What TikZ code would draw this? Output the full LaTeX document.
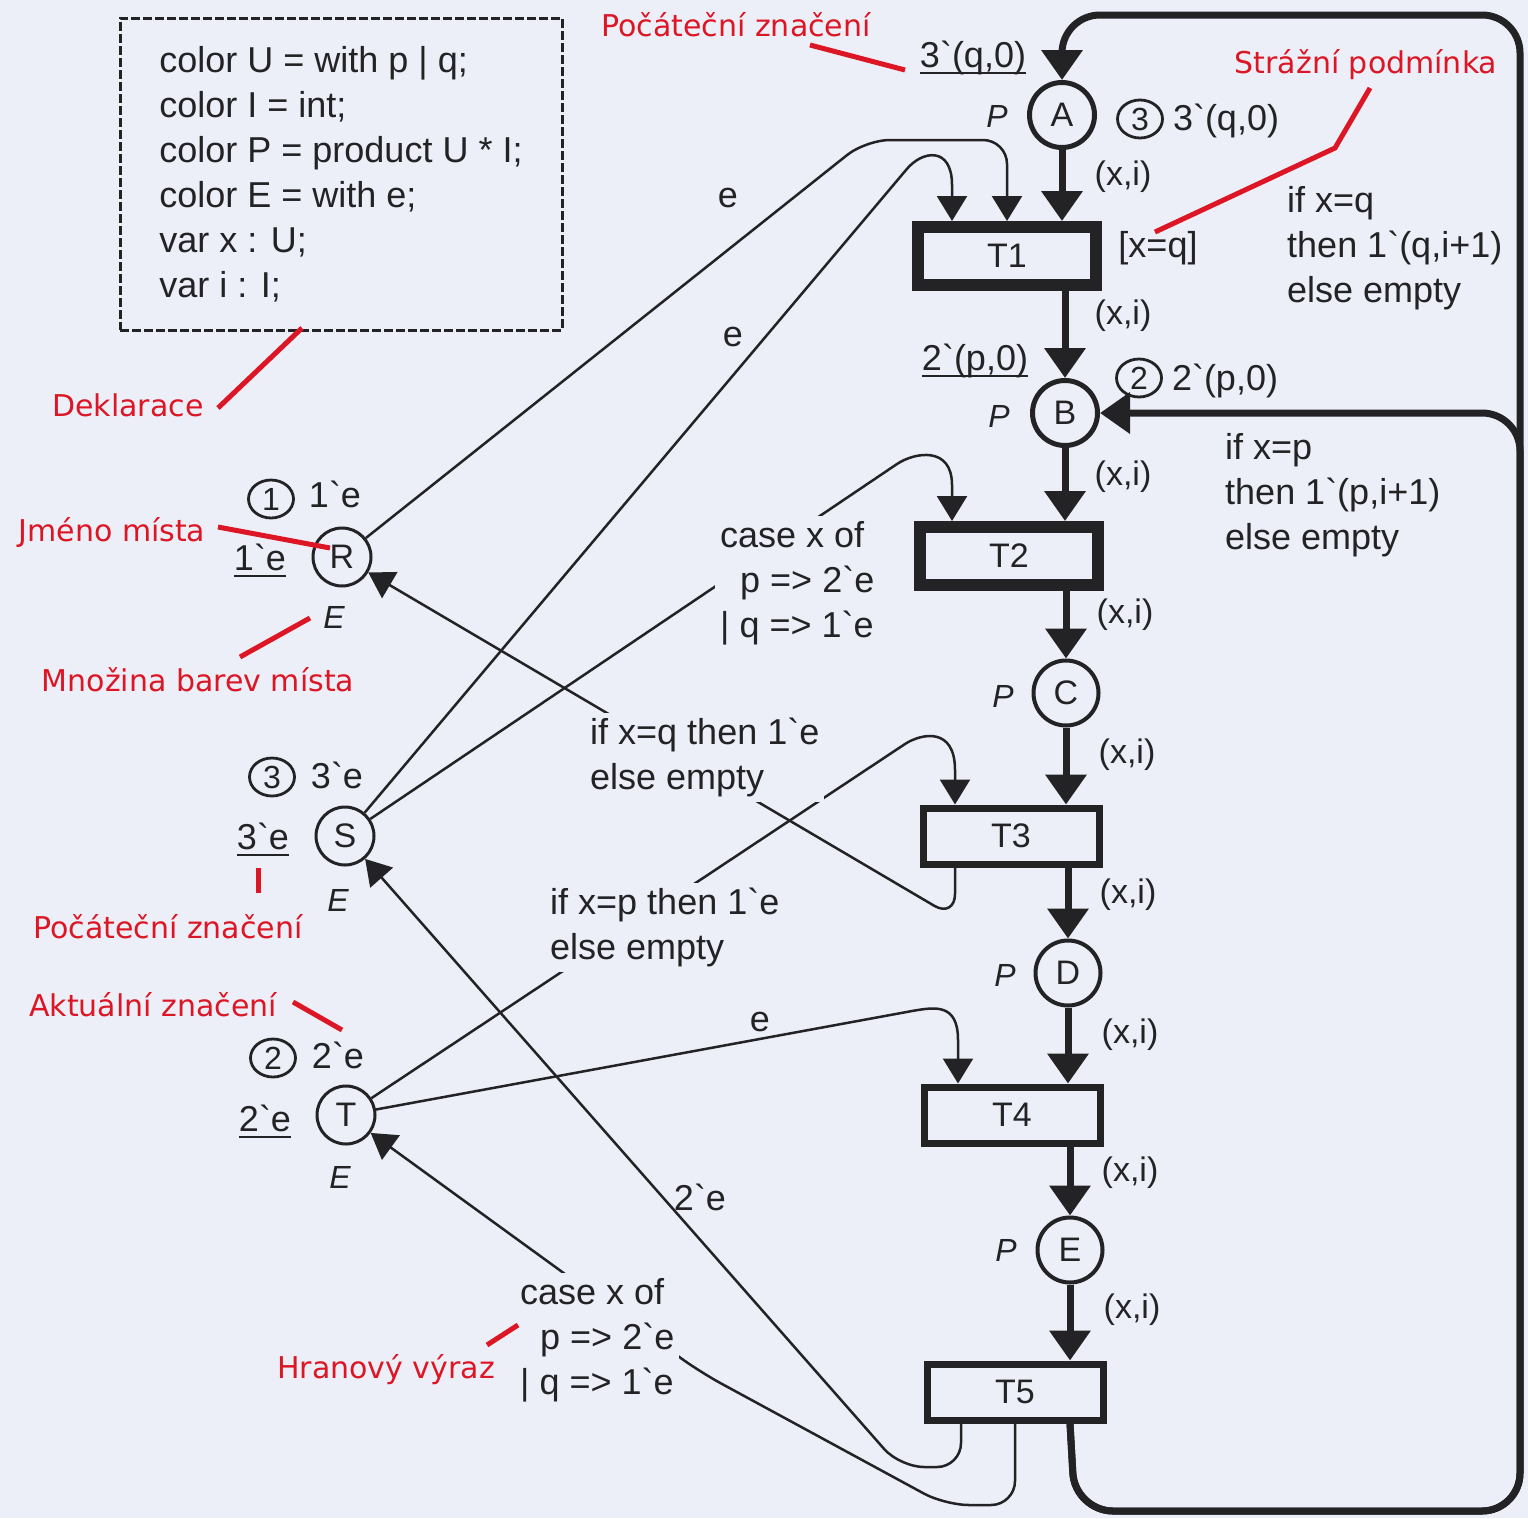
\documentclass[tikz,border=0pt]{standalone}
\usepackage{fontspec}
\setmainfont{Liberation Sans}
\newfontfamily\notefont{DejaVu Sans}
\usetikzlibrary{arrows.meta,shapes.geometric}

\definecolor{paper}{RGB}{236,239,248}
\definecolor{ink}{RGB}{35,35,38}
\definecolor{notered}{RGB}{220,22,36}

\newcommand{\bq}{\textasciigrave}
\newcommand{\initmk}[1]{\setbox0=\hbox{#1}\rlap{\rule[-7pt]{\wd0}{2.5pt}}\box0}

\begin{document}
\begin{tikzpicture}[x=1pt,y=-1pt,
    txt/.style={text=ink,inner sep=0pt,align=left,font=\fontsize{36}{45}\selectfont},
    gap/.style={txt,fill=paper,inner sep=5pt},
    small/.style={txt,font=\fontsize{34}{40}\selectfont},
    colset/.style={txt,font=\itshape\fontsize{32}{32}\selectfont},
    pplace/.style={circle,draw=ink,line width=5pt,minimum size=65pt,inner sep=0pt,
      text=ink,font=\fontsize{34}{34}\selectfont},
    eplace/.style={pplace,line width=3pt,minimum size=58pt},
    heavytrans/.style={rectangle,draw=ink,line width=12pt,minimum width=178pt,
      minimum height=58pt,inner sep=0pt,text=ink,font=\fontsize{34}{34}\selectfont},
    lighttrans/.style={heavytrans,line width=7pt,minimum width=176pt,minimum height=56pt},
    thickarc/.style={draw=ink,line width=7pt,rounded corners=38pt,
      -{Triangle[width=40pt,length=30pt]}},
    thinarc/.style={draw=ink,line width=2.5pt,rounded corners=24pt,
      -{Triangle[width=30pt,length=25pt]}},
    tokencnt/.style={ellipse,draw=ink,line width=2.8pt,minimum width=45pt,
      minimum height=38pt,inner sep=0pt,text=ink,font=\fontsize{32}{32}\selectfont},
    note/.style={text=notered,inner sep=0pt,font=\notefont\fontsize{30}{30}\selectfont},
    pointer/.style={draw=notered,line width=5pt}
  ]

  \useasboundingbox (0,0) rectangle (1528,1518);
  \fill[paper] (0,0) rectangle (1528,1518);

  % ====================================================
  % DECLARATIONS
  % ====================================================
  \node[txt,draw=ink,line width=3pt,dash pattern=on 9pt off 3pt,
        minimum width=442pt,minimum height=312pt]
    (decl) at (341,174)
    {color U = with p | q;\\color I = int;\\color P = product U * I;\\
     color E = with e;\\var x : U;\\var i : I;};

  % ====================================================
  % PLACES AND TRANSITIONS
  % ====================================================

  % main chain
  \node[pplace] (A) at (1062,115) {A};
  \node[pplace] (B) at (1065,413) {B};
  \node[pplace,line width=4pt] (C) at (1066,693) {C};
  \node[pplace,line width=4pt] (D) at (1068,973) {D};
  \node[pplace,line width=4pt] (E) at (1070,1250) {E};

  \node[heavytrans] (T1) at (1007,256) {T1};
  \node[heavytrans] (T2) at (1009,556) {T2};
  \node[lighttrans] (T3) at (1011,836) {T3};
  \node[lighttrans] (T4) at (1012,1115) {T4};
  \node[lighttrans] (T5) at (1015,1392) {T5};

  % resource places
  \node[eplace] (R) at (342,557) {R};
  \node[eplace] (S) at (345,836) {S};
  \node[eplace] (T) at (346,1115) {T};

  % ====================================================
  % ARCS
  % ====================================================

  % thick chain A -> T1 -> B -> ... -> T5
  \draw[thickarc] (A) -- (A |- T1.north);
  \draw[thickarc] (T1.south -| B) -- (B);
  \draw[thickarc] (B) -- (B |- T2.north);
  \draw[thickarc] (T2.south -| C) -- (C);
  \draw[thickarc] (C) -- (C |- T3.north);
  \draw[thickarc] (T3.south -| D) -- (D);
  \draw[thickarc] (D) -- (D |- T4.north);
  \draw[thickarc] (T4.south -| E) -- (E);
  \draw[thickarc] (E) -- (E |- T5.north);

  % back from T5 to A and to B
  \draw[thickarc] (T5.south -| E) -- (1075,1511) -- (1520,1511) -- (1520,15)
    -- (1062,15) -- (A);
  \draw[thickarc] (T5.south -| E) -- (1075,1511) -- (1520,1511) -- (1520,413) -- (B);

  % resources into the transitions
  \draw[thinarc] (R) -- (866,140) -- (1007,140) -- (T1.north);
  \draw[thinarc,sharp corners] (S) -- (906,170) .. controls (922,150) and (952,146) ..
    (952,185) -- ([xshift=-55pt]T1.north);
  \draw[thinarc,sharp corners] (S) -- (897,464) .. controls (915,452) and (952,446) ..
    (952,485) -- ([xshift=-57pt]T2.north);
  \draw[thinarc,sharp corners] (T) -- (905,744) .. controls (922,733) and (955,727) ..
    (955,770) -- ([xshift=-56pt]T3.north);
  \draw[thinarc,sharp corners] (T) -- (912,1011) .. controls (935,1007) and (958,1003) ..
    (958,1040) -- ([xshift=-54pt]T4.north);

  % resources given back
  \draw[thinarc] ([xshift=-56pt]T3.south) -- (955,918) -- (R);
  \draw[thinarc] ([xshift=-54pt]T5.south) -- (961,1467) -- (900,1467) -- (S);
  \draw[thinarc] (T5.south) -- (1015,1505) -- (945,1505) -- (700,1372) -- (T);

  % ====================================================
  % INSCRIPTIONS
  % ====================================================

  % colour sets
  \node[colset] (csA) at (997,116) {P};
  \node[colset] (csB) at (999,416) {P};
  \node[colset] (csC) at (1003,696) {P};
  \node[colset] (csD) at (1005,975) {P};
  \node[colset] (csE) at (1006,1250) {P};
  \node[colset] (csR) at (334,617) {E};
  \node[colset] (csS) at (338,900) {E};
  \node[colset] (csT) at (340,1177) {E};

  % initial markings
  \node[txt,anchor=base] (imA) at (973,67) {\initmk{3\bq(q,0)}};
  \node[txt,anchor=base] (imB) at (975,370) {\initmk{2\bq(p,0)}};
  \node[txt,anchor=base] (imR) at (260,570) {\initmk{1\bq e}};
  \node[txt,anchor=base] (imS) at (263,849) {\initmk{3\bq e}};
  \node[txt,anchor=base] (imT) at (265,1131) {\initmk{2\bq e}};

  % current markings
  \node[tokencnt] (cntA) at (1140,119) {3};
  \node[txt,anchor=base] (curA) at (1226,130) {3\bq(q,0)};
  \node[tokencnt] (cntB) at (1139,378) {2};
  \node[txt,anchor=base] (curB) at (1225,390) {2\bq(p,0)};
  \node[tokencnt] (cntR) at (271,499) {1};
  \node[txt,anchor=base] (curR) at (335,507) {1\bq e};
  \node[tokencnt] (cntS) at (272,777) {3};
  \node[txt,anchor=base] (curS) at (337,788) {3\bq e};
  \node[tokencnt] (cntT) at (273,1058) {2};
  \node[txt,anchor=base] (curT) at (338,1068) {2\bq e};

  % arc expressions on the chain
  \node[small] (ax1) at (1123,177) {(x,i)};
  \node[small] (ax2) at (1123,316) {(x,i)};
  \node[small] (ax3) at (1123,477) {(x,i)};
  \node[small] (ax4) at (1125,615) {(x,i)};
  \node[small] (ax5) at (1127,755) {(x,i)};
  \node[small] (ax6) at (1128,895) {(x,i)};
  \node[small] (ax7) at (1130,1035) {(x,i)};
  \node[small] (ax8) at (1130,1173) {(x,i)};
  \node[small] (ax9) at (1132,1310) {(x,i)};

  \node[txt] (guard) at (1158,248) {[x=q]};
  \node[txt,anchor=west] (toA) at (1287,248) {if x=q\\then 1\bq(q,i+1)\\else empty};
  \node[txt,anchor=west] (toB) at (1225,495) {if x=p\\then 1\bq(p,i+1)\\else empty};

  % arc expressions on the resource arcs
  \node[txt] (eR) at (728,198) {e};
  \node[txt] (eS) at (733,337) {e};
  \node[txt] (eT) at (760,1022) {e};
  \node[txt] (twoS) at (700,1197) {2\bq e};
  \node[gap,anchor=west] (caseS) at (715,583)
    {case x of\\\hspace*{20pt}p => 2\bq e\\| q => 1\bq e};
  \node[gap,anchor=west] (backR) at (585,757) {if x=q then 1\bq e\\else empty};
  \node[gap,anchor=west] (takeT) at (545,927) {if x=p then 1\bq e\\else empty};
  \node[gap,anchor=west] (caseT) at (515,1340)
    {case x of\\\hspace*{20pt}p => 2\bq e\\| q => 1\bq e};

  % ====================================================
  % RED NOTES
  % ====================================================
  \node[note] (nInitTop) at (736,25) {Počáteční značení};
  \node[note] (nGuard) at (1366,65) {Strážní podmínka};
  \node[note] (nDecl) at (128,405) {Deklarace};
  \node[note] (nName) at (112,532) {Jméno místa};
  \node[note] (nColset) at (198,680) {Množina barev místa};
  \node[note] (nInit) at (168,927) {Počáteční značení};
  \node[note] (nCur) at (153,1005) {Aktuální značení};
  \node[note] (nExpr) at (386,1370) {Hranový výraz};

  \coordinate (pInitTopA) at (810,45);   \coordinate (pInitTopB) at (905,70);
  \coordinate (pGuardA) at (1370,88);    \coordinate (pGuardB) at (1155,232);
  \coordinate (pDeclA) at (218,408);     \coordinate (pDeclB) at (302,328);
  \coordinate (pNameA) at (218,527);     \coordinate (pNameB) at (330,548);
  \coordinate (pColsetA) at (240,657);   \coordinate (pColsetB) at (310,618);
  \coordinate (pInitA) at (258,893);     \coordinate (pInitB) at (258,868);
  \coordinate (pCurA) at (293,1002);     \coordinate (pCurB) at (342,1030);
  \coordinate (pExprA) at (487,1345);    \coordinate (pExprB) at (518,1325);

  \draw[pointer] (pInitTopA) -- (pInitTopB);
  \draw[pointer] (pGuardA) -- (1335,148) -- (pGuardB);
  \draw[pointer] (pDeclA) -- (pDeclB);
  \draw[pointer] (pNameA) -- (pNameB);
  \draw[pointer] (pColsetA) -- (pColsetB);
  \draw[pointer] (pInitA) -- (pInitB);
  \draw[pointer] (pCurA) -- (pCurB);
  \draw[pointer] (pExprA) -- (pExprB);
\end{tikzpicture}
\end{document}
